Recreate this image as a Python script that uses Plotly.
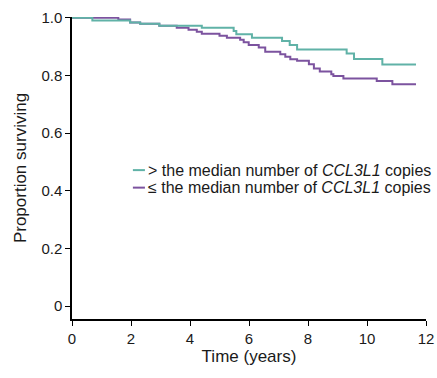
import plotly.graph_objects as go

# Kaplan-Meier step data
high_times = [0, 0.69, 1.97, 2.31, 2.96, 4.40, 5.48, 5.57, 6.10, 7.12, 7.38, 7.63, 9.31, 9.56, 10.52, 11.66]
high_surv = [1.0, 0.991, 0.984, 0.980, 0.973, 0.966, 0.954, 0.943, 0.931, 0.920, 0.906, 0.890, 0.876, 0.857, 0.838, 0.838]

low_times = [0, 1.57, 1.97, 2.31, 2.96, 3.55, 3.95, 4.23, 4.40, 5.00, 5.25, 5.70, 5.82, 5.99, 6.33,
             6.55, 7.06, 7.23, 7.40, 7.63, 8.03, 8.20, 8.40, 8.79, 8.86, 9.20, 10.33, 10.86, 11.66]
low_surv = [1.0, 0.994, 0.984, 0.980, 0.973, 0.966, 0.959, 0.952, 0.945, 0.938, 0.931, 0.924, 0.915, 0.906, 0.897,
            0.882, 0.874, 0.865, 0.856, 0.851, 0.839, 0.824, 0.814, 0.804, 0.798, 0.790, 0.781, 0.770, 0.770]

legend_labels = ["> the median number of <i>CCL3L1</i> copies",
                 "≤ the median number of <i>CCL3L1</i> copies"]
y_ticks = [0, 0.2, 0.4, 0.6, 0.8, 1.0]
y_ticktext = ["0", "0.2", "0.4", "0.6", "0.8", "1.0"]
x_ticks = [0, 2, 4, 6, 8, 10, 12]

TEAL = "#60b2a7"
PURPLE = "#7c539f"
FONT = "Liberation Sans, Arial, sans-serif"
TXT = "#1a1a1a"

fig = go.Figure()
fig.add_trace(go.Scatter(x=low_times, y=low_surv, mode="lines", line=dict(color=PURPLE, width=2, shape="hv"),
                         showlegend=False))
fig.add_trace(go.Scatter(x=high_times, y=high_surv, mode="lines", line=dict(color=TEAL, width=2, shape="hv"),
                         showlegend=False))

# legend drawn manually (short line samples)
for i, (lab, col) in enumerate(zip(legend_labels, [TEAL, PURPLE])):
    yp = 0.493 - i * 0.058
    fig.add_shape(type="line", xref="paper", yref="paper", x0=0.172, x1=0.206, y0=yp, y1=yp,
                  line=dict(color=col, width=2))
    fig.add_annotation(xref="paper", yref="paper", x=0.209, y=yp, xanchor="left", yanchor="middle",
                       text=lab, showarrow=False, font=dict(family=FONT, size=16, color=TXT))

fig.update_layout(
    width=437, height=378,
    margin=dict(l=72, r=11, t=17, b=59),
    paper_bgcolor="white", plot_bgcolor="white",
    font=dict(family=FONT, size=15, color=TXT),
)
fig.update_xaxes(range=[0, 12], tickvals=x_ticks, showgrid=False, zeroline=False, automargin=False,
                 showline=True, linecolor="black", linewidth=1.5, ticks="outside", ticklen=5,
                 tickcolor="black", tickwidth=1, tickfont=dict(size=15),
                 title=dict(text="Time (years)", font=dict(size=17), standoff=4))
fig.update_yaxes(range=[-0.045, 1.003], tickvals=y_ticks, ticktext=y_ticktext, showgrid=False, zeroline=False,
                 automargin=False,
                 showline=True, linecolor="black", linewidth=1.5, ticks="outside", ticklen=5,
                 tickcolor="black", tickwidth=1, tickfont=dict(size=15),
                 title=dict(text="Proportion surviving", font=dict(size=17), standoff=10))

fig.write_html("out.html", config={"displayModeBar": False},
               post_script="document.body.style.margin='0';document.body.style.overflow='hidden';")
